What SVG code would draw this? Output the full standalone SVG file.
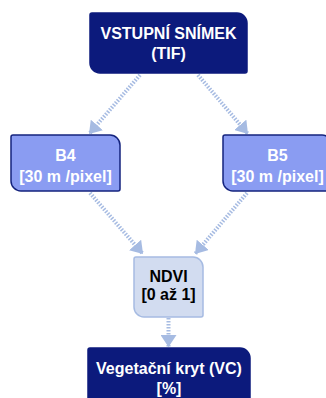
<svg xmlns="http://www.w3.org/2000/svg" width="326" height="398" viewBox="0 0 326 398">
  <style>
    .dark { fill: #0c1a7c; stroke: #0c1a7c; stroke-width: 1.5; }
    .band { fill: #8a9cf2; stroke: #14237e; stroke-width: 1.5; }
    .light { fill: #d2dcf0; stroke: #a6bbe2; stroke-width: 1.5; }
    .lbl { font-family: "Liberation Sans", Arial, sans-serif; font-size: 16px; font-weight: bold; text-anchor: middle; }
    .white { fill: #ffffff; }
    .black { fill: #000000; }
    .link { fill: none; stroke: #a6bbe2; stroke-width: 4; stroke-dasharray: 1.5 1.5; }
  </style>
  <defs>
    <marker id="arrow" viewBox="0 0 12 16" refX="12" refY="8" markerWidth="12" markerHeight="16" markerUnits="userSpaceOnUse" orient="auto">
      <path d="M0,0 L12,8 L0,16 Z" fill="#a6bbe2"/>
    </marker>
  </defs>

  <g id="connectors">
    <line class="link" x1="140" y1="75" x2="89" y2="134" marker-end="url(#arrow)"/>
    <line class="link" x1="198" y1="75" x2="248" y2="134" marker-end="url(#arrow)"/>
    <line class="link" x1="90" y1="193" x2="143" y2="254" marker-end="url(#arrow)"/>
    <line class="link" x1="247" y1="193" x2="195" y2="254" marker-end="url(#arrow)"/>
    <line class="link" x1="168.5" y1="318" x2="168.5" y2="347" marker-end="url(#arrow)"/>
  </g>

  <g id="vstup">
    <path class="dark" d="M92,13 H237 A10,10 0 0 1 247,23 V71 A2,2 0 0 1 245,73 H100 A10,10 0 0 1 90,63 V15 A2,2 0 0 1 92,13 Z"/>
    <text class="lbl white" x="168.5" y="38.5">VSTUPNÍ SNÍMEK</text>
    <text class="lbl white" x="168.5" y="59">(TIF)</text>
  </g>

  <g id="b4">
    <path class="band" d="M13,135 H110 A10,10 0 0 1 120,145 V189 A2,2 0 0 1 118,191 H21 A10,10 0 0 1 11,181 V137 A2,2 0 0 1 13,135 Z"/>
    <text class="lbl white" x="65.5" y="160.5">B4</text>
    <text class="lbl white" x="65.5" y="181.5">[30 m /pixel]</text>
  </g>

  <g id="b5">
    <path class="band" d="M225,135 H322 A10,10 0 0 1 332,145 V189 A2,2 0 0 1 330,191 H233 A10,10 0 0 1 223,181 V137 A2,2 0 0 1 225,135 Z"/>
    <text class="lbl white" x="277.5" y="160.5">B5</text>
    <text class="lbl white" x="277.5" y="181.5">[30 m /pixel]</text>
  </g>

  <g id="ndvi">
    <path class="light" d="M136,257 H193 A10,10 0 0 1 203,267 V315 A2,2 0 0 1 201,317 H144 A10,10 0 0 1 134,307 V259 A2,2 0 0 1 136,257 Z"/>
    <text class="lbl black" x="168.5" y="282">NDVI</text>
    <text class="lbl black" x="168.5" y="300">[0 až 1]</text>
  </g>

  <g id="vc">
    <path class="dark" d="M90,348 H240 A10,10 0 0 1 250,358 V410 H88 V350 A2,2 0 0 1 90,348 Z"/>
    <text class="lbl white" x="169" y="373.5">Vegetační kryt (VC)</text>
    <text class="lbl white" x="169" y="393.5">[%]</text>
  </g>
</svg>
